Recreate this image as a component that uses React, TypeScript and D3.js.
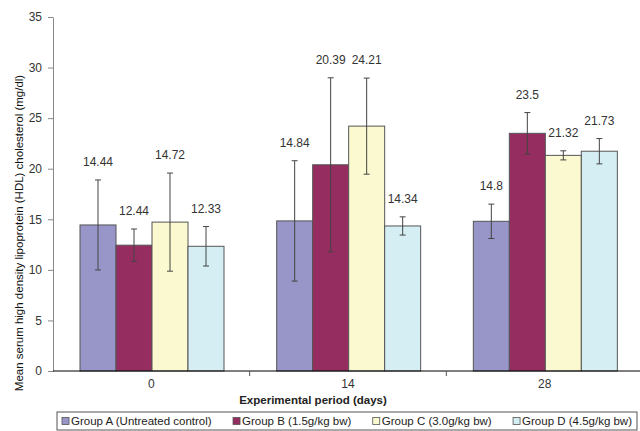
import React, { useRef, useEffect } from 'react';
import * as d3 from 'd3';

const periods = ['0', '14', '28'];
const groups = [
    'Group A (Untreated control)',
    'Group B (1.5g/kg bw)',
    'Group C (3.0g/kg bw)',
    'Group D (4.5g/kg bw)'
];
const colors = ['#9896c9', '#962d60', '#fbf9cf', '#d4eef4'];
// mean values per group, one entry per period
const groupA = [14.44, 14.84, 14.8];
const groupB = [12.44, 20.39, 23.5];
const groupC = [14.72, 24.21, 21.32];
const groupD = [12.33, 14.34, 21.73];
// error bar half-widths
const errA = [4.45, 5.95, 1.7];
const errB = [1.6, 8.6, 2.05];
const errC = [4.85, 4.75, 0.45];
const errD = [1.95, 0.9, 1.25];
const yTicks = [0, 5, 10, 15, 20, 25, 30, 35];

function App() {
    const ref = useRef<SVGSVGElement>(null);
    useEffect(() => {
        const svg = d3.select(ref.current);
        svg.selectAll('*').remove();
        const font = 'Liberation Sans, Arial, sans-serif';

        const x0 = d3.scaleBand().domain(periods).range([53, 643]).paddingInner(0).paddingOuter(0);
        const x1 = d3.scaleBand().domain(groups).range([27, 171]);
        const y = d3.scaleLinear().domain([0, 35]).range([371, 17]);

        const means = [groupA, groupB, groupC, groupD];
        const errs = [errA, errB, errC, errD];
        const rows: any[] = [];
        periods.forEach((p, i) => {
            groups.forEach((g, j) => {
                rows.push({ p, g, j, v: means[j][i], e: errs[j][i] });
            });
        });

        // y axis
        const yAxis = svg.append('g')
            .attr('transform', 'translate(53,0)')
            .call(d3.axisLeft(y).tickValues(yTicks).tickSize(5).tickSizeOuter(0));
        yAxis.select('.domain').attr('stroke', '#888');
        yAxis.selectAll('.tick line').attr('stroke', '#888');
        yAxis.selectAll('.tick text')
            .attr('font-family', font).attr('font-size', 12).attr('fill', '#333').attr('dx', -3);

        // bars
        const bars = svg.append('g');
        bars.selectAll('rect')
            .data(rows)
            .enter().append('rect')
            .attr('x', d => x0(d.p)! + x1(d.g)!)
            .attr('y', d => y(d.v))
            .attr('width', x1.bandwidth())
            .attr('height', d => y(0) - y(d.v))
            .attr('fill', d => colors[d.j])
            .attr('stroke', '#555')
            .attr('stroke-width', 1);

        // error bars
        const eb = svg.append('g').attr('stroke', '#444').attr('stroke-width', 1);
        rows.forEach(d => {
            const cx = x0(d.p)! + x1(d.g)! + x1.bandwidth() / 2;
            eb.append('line').attr('x1', cx).attr('x2', cx)
                .attr('y1', y(d.v + d.e)).attr('y2', y(d.v - d.e));
            [d.v + d.e, d.v - d.e].forEach(t => {
                eb.append('line').attr('x1', cx - 3).attr('x2', cx + 3)
                    .attr('y1', y(t)).attr('y2', y(t));
            });
        });

        // value labels
        svg.append('g').selectAll('text')
            .data(rows)
            .enter().append('text')
            .attr('x', d => x0(d.p)! + x1(d.g)! + x1.bandwidth() / 2)
            .attr('y', d => y(d.v + d.e) - 14)
            .attr('text-anchor', 'middle')
            .attr('font-family', font)
            .attr('font-size', 12)
            .attr('fill', '#333')
            .text(d => String(d.v));

        // x axis
        svg.append('line')
            .attr('x1', 53).attr('x2', 640)
            .attr('y1', 371).attr('y2', 371)
            .attr('stroke', '#000').attr('stroke-width', 1.2);
        [x0('14')!, x0('28')!].forEach(t => {
            svg.append('line').attr('x1', t).attr('x2', t).attr('y1', 371).attr('y2', 376)
                .attr('stroke', '#555');
        });
        svg.append('g').selectAll('text')
            .data(periods)
            .enter().append('text')
            .attr('x', d => x0(d)! + x0.bandwidth() / 2)
            .attr('y', 388)
            .attr('text-anchor', 'middle')
            .attr('font-family', font).attr('font-size', 12).attr('fill', '#333')
            .text(d => d);

        svg.append('text')
            .attr('x', 313).attr('y', 404)
            .attr('text-anchor', 'middle')
            .attr('font-family', font).attr('font-size', 11.5).attr('font-weight', 'bold')
            .attr('fill', '#222')
            .text('Experimental period (days)');

        svg.append('text')
            .attr('transform', 'translate(23,233) rotate(-90)')
            .attr('text-anchor', 'middle')
            .attr('font-family', font).attr('font-size', 11.5)
            .attr('fill', '#111')
            .text('Mean serum high density lipoprotein (HDL) cholesterol (mg/dl)');

        // legend
        svg.append('rect')
            .attr('x', 57).attr('y', 412).attr('width', 580).attr('height', 18)
            .attr('fill', '#fff').attr('stroke', '#555');
        const leg = svg.append('g').selectAll('g')
            .data(groups)
            .enter().append('g');
        leg.append('rect')
            .attr('x', 0).attr('y', -3.5).attr('width', 7).attr('height', 7)
            .attr('fill', (d, i) => colors[i]).attr('stroke', '#555').attr('stroke-width', 0.8);
        leg.append('text')
            .attr('x', 9).attr('y', 4)
            .attr('font-family', font).attr('font-size', 11.5).attr('fill', '#222')
            .text(d => d);
        // spread the entries evenly between the box edges
        const widths: number[] = [];
        leg.select('text').each(function () {
            widths.push(9 + (this as SVGTextElement).getComputedTextLength());
        });
        const start = 62, end = 632;
        const gap = (end - start - d3.sum(widths)) / (widths.length - 1);
        let pos = start;
        leg.attr('transform', (d, i) => {
            const t = 'translate(' + pos + ',421)';
            pos += widths[i] + gap;
            return t;
        });
    }, []);
    return (
        <svg ref={ref} width="640" height="431"
            style={{ position: 'absolute', left: 0, top: 0, background: '#fff' }}></svg>
    );
}

export default App;
